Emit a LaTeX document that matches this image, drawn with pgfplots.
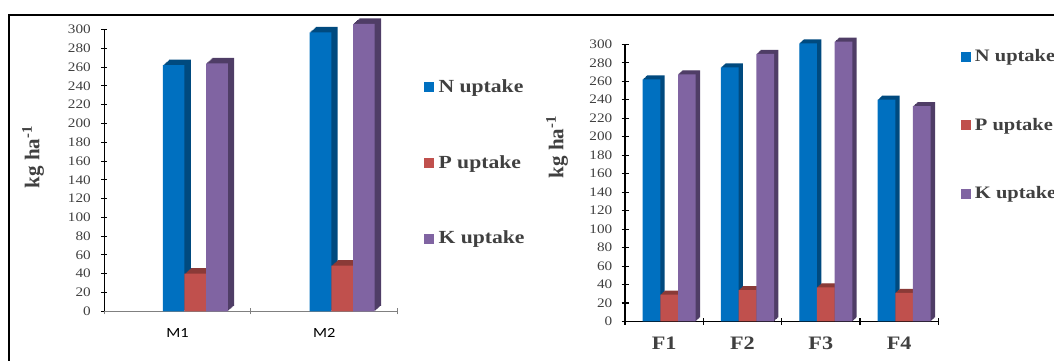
\documentclass[border=0pt]{standalone}
\usepackage{pgfplots}
\pgfplotsset{compat=1.18}
\usepackage{pgfplotstable}
\usepackage{fontspec}
\setmainfont[FakeStretch=1.17]{Liberation Serif}
\newfontfamily\rotserif{Liberation Serif}
\newfontfamily\calib[FakeStretch=1.17]{Carlito}
\definecolor{Nc}{HTML}{0070C0}
\definecolor{Nd}{HTML}{004A7F}
\definecolor{Pc}{HTML}{C0504D}
\definecolor{Pd}{HTML}{8A3A37}
\definecolor{Kc}{HTML}{8064A2}
\definecolor{Kd}{HTML}{4F3D66}
\definecolor{txt}{HTML}{404040}

\pgfplotstableread{
x N P K
1 262 40 264
2 297 48.5 306
}\leftdata
\pgfplotstableread{
x N P K
1 262 29 267.5
2 275 34 289.5
3 301 37 303
4 240 31 233
}\rightdata

% #1 table, #2 column, #3 width, #4 shift, #5 front colour, #6 side colour, #7 dx step, #8 dy step
\newcommand{\threedbar}[8]{%
  \pgfplotsinvokeforeach{1,...,6}{%
    \addplot[ybar, bar width=#3, bar shift=#4, fill=#6, draw=none, forget plot,
      xshift=##1*#7, yshift=##1*#8] table[x=x,y=#2]{#1};
  }%
  \addplot[ybar, bar width=#3, bar shift=#4, fill=#5, draw=none, forget plot] table[x=x,y=#2]{#1};
}
\newcommand{\sqentry}[2]{%
  \addlegendimage{legend image code/.code={\fill[#1] (0pt,-4.5pt) rectangle (9pt,4.5pt);}}
  \addlegendentry{#2}
}

\begin{document}
\begin{tikzpicture}
\path[use as bounding box] (0,0) rectangle (1054pt,361pt);
\clip (0,0) rectangle (1054pt,361pt);
\draw[line width=1.2pt] (9pt,0pt) -- (9pt,346pt) -- (1054pt,346pt);

% ---------------- left panel ----------------
\begin{axis}[
  at={(104pt,49.7pt)}, anchor=south west, scale only axis,
  width=293.7pt, height=281.8pt,
  xmin=0.5, xmax=2.5, ymin=0, ymax=300, clip=false,
  axis lines*=left,
  x axis line style={draw=gray, line width=0.8pt},
  y axis line style={draw=black, line width=0.9pt},
  xtick={0.5,1.5,2.5}, x tick label as interval, xticklabels={M1,M2},
  ytick={0,20,...,300},
  tick align=center, major tick length=6pt,
  xtick style={draw=gray, line width=0.8pt},
  ytick style={draw=black, line width=0.9pt},
  /pgf/number format/assume math mode=true,
  yticklabel style={font=\fontsize{13}{15}\selectfont, text=txt, inner sep=0pt, xshift=-10pt},
  xticklabel style={font=\calib\fontsize{14}{16}\selectfont, text=black, inner sep=0pt, yshift=-14pt},
  ylabel={\rotserif\bfseries kg ha\textsuperscript{-1}},
  ylabel style={at={(axis description cs:-0.2417,0.5476)}, anchor=center, font=\fontsize{21}{24}\selectfont, text=txt},
  legend style={draw=none, fill=none, at={(1.0895,0.8306)}, anchor=north west, inner sep=0pt,
    row sep=57.5pt, font=\bfseries\fontsize{18.5}{21}\selectfont, text=txt,
    /tikz/every odd column/.append style={column sep=3pt}},
  legend cell align=left,
]
\threedbar{\leftdata}{N}{21.7pt}{-3.8pt}{Nc}{Nd}{1.05pt}{0.92pt}
\threedbar{\leftdata}{P}{21.7pt}{17.9pt}{Pc}{Pd}{1.05pt}{0.92pt}
\threedbar{\leftdata}{K}{21.7pt}{39.6pt}{Kc}{Kd}{1.05pt}{0.92pt}
\sqentry{Nc}{N uptake}
\sqentry{Pc}{P uptake}
\sqentry{Kc}{K uptake}
\end{axis}

% ---------------- right panel ----------------
\begin{axis}[
  at={(625pt,39.5pt)}, anchor=south west, scale only axis,
  width=313.3pt, height=277.2pt,
  xmin=0.5, xmax=4.5, ymin=0, ymax=300, clip=false,
  axis lines*=left,
  x axis line style={draw=black, line width=1.3pt},
  y axis line style={draw=black, line width=1.3pt},
  xtick={0.5,1.5,2.5,3.5,4.5}, x tick label as interval, xticklabels={F1,F2,F3,F4},
  ytick={0,20,...,300},
  tick align=center, major tick length=7pt,
  xtick style={draw=black, line width=1.1pt},
  ytick style={draw=black, line width=1.1pt},
  /pgf/number format/assume math mode=true,
  yticklabel style={font=\fontsize{13}{15}\selectfont, text=txt, inner sep=0pt, xshift=-9pt},
  xticklabel style={font=\bfseries\fontsize{19}{21}\selectfont, text=txt, inner sep=0pt, yshift=-12pt},
  ylabel={\rotserif\bfseries kg ha\textsuperscript{-1}},
  ylabel style={at={(axis description cs:-0.217,0.6295)}, anchor=center, font=\fontsize{21}{24}\selectfont, text=txt},
  legend style={draw=none, fill=none, at={(1.072,0.9894)}, anchor=north west, inner sep=0pt,
    row sep=51pt, font=\bfseries\fontsize{17.5}{20}\selectfont, text=txt,
    /tikz/every odd column/.append style={column sep=2.5pt}},
  legend cell align=left,
]
\threedbar{\rightdata}{N}{17.7pt}{-12.7pt}{Nc}{Nd}{0.72pt}{0.67pt}
\threedbar{\rightdata}{P}{17.7pt}{5pt}{Pc}{Pd}{0.72pt}{0.67pt}
\threedbar{\rightdata}{K}{17.7pt}{22.7pt}{Kc}{Kd}{0.72pt}{0.67pt}
\sqentry{Nc}{N uptake}
\sqentry{Pc}{P uptake}
\sqentry{Kc}{K uptake}
\end{axis}
\end{tikzpicture}
\end{document}
